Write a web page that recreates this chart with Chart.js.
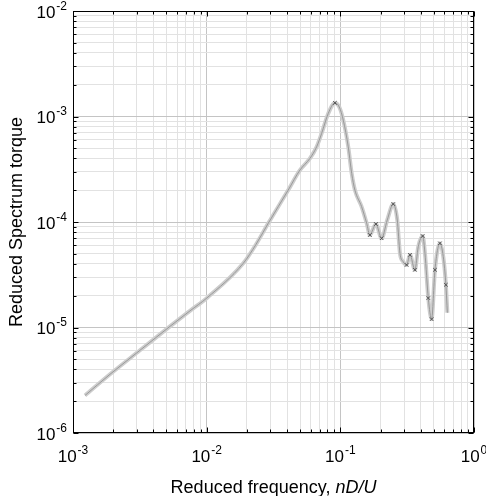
<!DOCTYPE html>
<html><head><meta charset="utf-8">
<script src="https://cdn.jsdelivr.net/npm/chart.js@4.4.0/dist/chart.umd.min.js"></script>
<style>html,body{margin:0;padding:0;background:#fff;overflow:hidden;}canvas{display:block;}</style>
</head><body>
<canvas id="c" width="486" height="496"></canvas>
<script>
// ---- data ----
const freq = [1.230e-3, 1.891e-3, 3.170e-3, 5.314e-3, 7.50e-3, 1.005e-2, 1.878e-2, 2.337e-2, 2.888e-2, 4.076e-2,
  4.986e-2, 5.924e-2, 6.648e-2, 7.246e-2, 8.12e-2, 9.11e-2, 9.82e-2, 0.1052, 0.1146, 0.1216,
  0.1285, 0.1442, 0.1574, 0.1663, 0.1845, 0.2037, 0.2244, 0.2489, 0.2667, 0.2793,
  0.2951, 0.3133, 0.3319, 0.3614, 0.3828, 0.4130, 0.4295, 0.4550, 0.4819, 0.5105,
  0.5559, 0.5888, 0.616, 0.632];
const spectrum = [2.27e-6, 3.60e-6, 6.08e-6, 1.025e-5, 1.437e-5, 1.908e-5, 4.06e-5, 6.12e-5, 9.72e-5, 2.009e-4,
  3.106e-4, 4.009e-4, 5.16e-4, 6.91e-4, 1.069e-3, 1.346e-3, 1.23e-3, 9.23e-4, 5.16e-4, 2.89e-4,
  2.01e-4, 1.40e-4, 9.73e-5, 7.53e-5, 9.57e-5, 7.01e-5, 1.045e-4, 1.48e-4, 1.045e-4, 5.06e-5,
  4.21e-5, 3.92e-5, 4.88e-5, 3.52e-5, 5.83e-5, 7.36e-5, 5.09e-5, 1.90e-5, 1.20e-5, 3.52e-5,
  6.28e-5, 4.70e-5, 2.54e-5, 1.38e-5];
const markedPoints = [15, 23, 24, 25, 27, 31, 32, 33, 35, 37, 38, 39, 40, 42];
const xDecades = [-3, -2, -1, 0];
const yDecades = [-6, -5, -4, -3, -2];
const tickBase = '10';
const xTitleText = 'Reduced frequency, ';
const xTitleItalic = 'nD/U';
const yTitleText = 'Reduced Spectrum torque';

// ---- helpers ----
const FONT = '"Liberation Sans", Arial, Helvetica, sans-serif';
function isDecade(v){ const l = Math.log10(v); return Math.abs(l - Math.round(l)) < 1e-9; }
function expOf(v){ return String(Math.round(Math.log10(v))); }
function logTicks(decades){
  const t = [];
  for (let i = 0; i < decades.length; i++) {
    const e = decades[i];
    if (i === decades.length - 1) { t.push({value: Math.pow(10, e)}); break; }
    for (let m = 1; m <= 9; m++) t.push({value: Number((m * Math.pow(10, e)).toPrecision(12))});
  }
  return t;
}
const pts = freq.map((f, i) => ({x: f, y: spectrum[i]}));
const markerRadius = freq.map((f, i) => markedPoints.includes(i) ? 2.5 : 0);

const frame = {
  id: 'frame',
  afterDraw(chart){
    const {ctx, chartArea: a, scales: {x, y}} = chart;
    ctx.save();
    ctx.strokeStyle = '#000';
    ctx.lineWidth = 1;
    const L = Math.round(a.left) + 0.5, R = Math.round(a.right) - 0.5, T = Math.round(a.top) + 0.5, B = Math.round(a.bottom) - 0.5;
    ctx.beginPath();
    x.ticks.forEach(t => {
      const px = Math.round(x.getPixelForValue(t.value)) + 0.5;
      const len = isDecade(t.value) ? 5 : 3;
      ctx.moveTo(px, B); ctx.lineTo(px, B - len);
      ctx.moveTo(px, T); ctx.lineTo(px, T + len);
    });
    y.ticks.forEach(t => {
      const py = Math.round(y.getPixelForValue(t.value)) + 0.5;
      const len = isDecade(t.value) ? 5 : 3;
      ctx.moveTo(L, py); ctx.lineTo(L + len, py);
      ctx.moveTo(R, py); ctx.lineTo(R - len, py);
    });
    ctx.stroke();
    ctx.strokeRect(L, T, R - L, B - T);

    // tick labels: 10 with raised exponent
    ctx.fillStyle = '#000';
    ctx.textBaseline = 'alphabetic';
    ctx.textAlign = 'left';
    const baseFont = '17px ' + FONT, supFont = '12px ' + FONT;
    x.ticks.filter(t => isDecade(t.value)).forEach(t => {
      const px = x.getPixelForValue(t.value);
      ctx.font = baseFont; const wb = ctx.measureText(tickBase).width;
      ctx.font = supFont; const ws = ctx.measureText(expOf(t.value)).width;
      const sx = px - (wb + ws + 1) / 2;
      ctx.font = baseFont; ctx.fillText(tickBase, sx, 462);
      ctx.font = supFont; ctx.fillText(expOf(t.value), sx + wb + 1, 453.5);
    });
    y.ticks.filter(t => isDecade(t.value)).forEach(t => {
      const py = y.getPixelForValue(t.value);
      ctx.font = baseFont; const wb = ctx.measureText(tickBase).width;
      ctx.font = supFont; const ws = ctx.measureText(expOf(t.value)).width;
      const right = a.left - 6;
      const sx = right - ws - wb - 1;
      ctx.font = baseFont; ctx.fillText(tickBase, sx, py + 6.5);
      ctx.font = supFont; ctx.fillText(expOf(t.value), sx + wb + 1, py - 1.5);
    });

    // x axis title with italic part
    ctx.font = '18px ' + FONT;
    const w1 = ctx.measureText(xTitleText).width;
    ctx.font = 'italic 18px ' + FONT;
    const w2 = ctx.measureText(xTitleItalic).width;
    const cx = (a.left + a.right) / 2;
    const sx = cx - (w1 + w2) / 2;
    ctx.font = '18px ' + FONT;
    ctx.fillText(xTitleText, sx, 493);
    ctx.font = 'italic 18px ' + FONT;
    ctx.fillText(xTitleItalic, sx + w1, 493);
    ctx.restore();
  }
};

const gridColor = ctx => (ctx.tick && isDecade(ctx.tick.value)) ? '#c4c4c4' : '#e2e2e2';

new Chart(document.getElementById('c'), {
  type: 'scatter',
  data: {
    datasets: [
      { data: pts, showLine: true, borderColor: '#cdcdcd', borderWidth: 4, pointRadius: 0,
        cubicInterpolationMode: 'monotone', order: 2 },
      { data: pts, showLine: true, borderColor: '#9a9a9a', borderWidth: 1, pointRadius: markerRadius,
        pointStyle: 'crossRot', pointBorderColor: '#505050', pointBorderWidth: 1, pointBackgroundColor: '#505050',
        cubicInterpolationMode: 'monotone', order: 1 }
    ]
  },
  options: {
    responsive: false,
    animation: false,
    events: [],
    layout: { padding: { top: 11, right: 12, left: 0, bottom: 0 } },
    plugins: { legend: { display: false }, tooltip: { enabled: false } },
    scales: {
      x: {
        type: 'logarithmic', min: 1e-3, max: 1,
        afterBuildTicks: s => { s.ticks = logTicks(xDecades); },
        afterFit: s => { s.height = 63; s.paddingLeft = 0; s.paddingRight = 0; },
        ticks: { display: false, autoSkip: false },
        grid: { color: gridColor, drawTicks: false, lineWidth: 1 },
        border: { display: false }
      },
      y: {
        type: 'logarithmic', min: 1e-6, max: 1e-2,
        afterBuildTicks: s => { s.ticks = logTicks(yDecades); },
        afterFit: s => { s.width = 73; s.paddingTop = 0; s.paddingBottom = 0; },
        ticks: { display: false, autoSkip: false },
        grid: { color: gridColor, drawTicks: false, lineWidth: 1 },
        border: { display: false },
        title: { display: true, text: yTitleText, color: '#000', font: { family: FONT, size: 18 },
          padding: { top: 6, bottom: 0 } }
      }
    }
  },
  plugins: [frame]
});
</script>
</body></html>
